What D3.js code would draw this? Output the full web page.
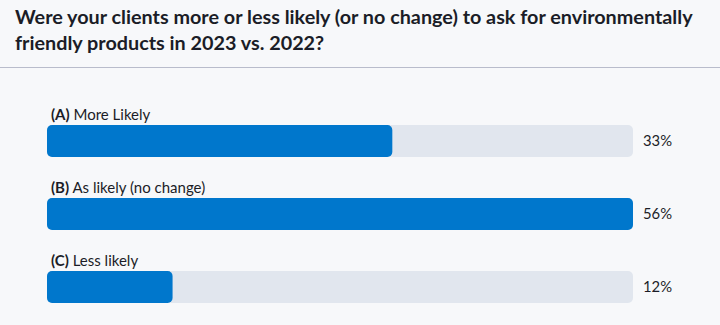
<!DOCTYPE html>
<html>
<head>
<meta charset="utf-8">
<script src="https://cdn.jsdelivr.net/npm/d3@7"></script>
<style>
  html, body { margin: 0; padding: 0; background: #f7f8fa; }
  svg { display: block; }
</style>
</head>
<body>
<div id="chart"></div>
<script>
// data
var letters = ["(A)", "(B)", "(C)"];
var answers = ["More Likely", "As likely (no change)", "Less likely"];
var percents = [33, 56, 12];
var titleLines = [
  "Were your clients more or less likely (or no change) to ask for environmentally",
  "friendly products in 2023 vs. 2022?"
];

var width = 720, height = 325;
var font = "Lato, 'Open Sans', sans-serif";

var svg = d3.select("#chart").append("svg")
  .attr("width", width)
  .attr("height", height)
  .style("font-family", font);

svg.append("rect")
  .attr("width", width).attr("height", height)
  .attr("fill", "#f7f8fa");

// title
svg.append("g").selectAll("text")
  .data(titleLines)
  .enter().append("text")
  .attr("x", 15)
  .attr("y", function (d, i) { return 24 + i * 26; })
  .attr("font-size", "19.8px")
  .attr("font-weight", "bold")
  .attr("fill", "#1b1d27")
  .text(function (d) { return d; });

svg.append("line")
  .attr("x1", 0).attr("x2", width)
  .attr("y1", 67.5).attr("y2", 67.5)
  .attr("stroke", "#b9bccb")
  .attr("stroke-width", 1);

// scales
var x = d3.scaleLinear()
  .domain([0, d3.max(percents)])
  .range([47, 633]);

var y = d3.scaleBand()
  .domain(d3.range(percents.length))
  .range([106, 325])
  .paddingInner(0);

var barH = 32;
var rows = svg.selectAll("g.row")
  .data(percents)
  .enter().append("g")
  .attr("class", "row")
  .attr("transform", function (d, i) { return "translate(0," + (y(i) + 19) + ")"; });

// track
rows.append("rect")
  .attr("x", x(0))
  .attr("width", x(d3.max(percents)) - x(0))
  .attr("height", barH)
  .attr("rx", 5)
  .attr("fill", "#e1e6ee");

// value bar
rows.append("rect")
  .attr("x", x(0))
  .attr("width", function (d) { return x(d) - x(0); })
  .attr("height", barH)
  .attr("rx", 5)
  .attr("fill", "#0077cc");

// labels
var lab = rows.append("text")
  .attr("x", x(0) + 4)
  .attr("y", -5)
  .attr("font-size", "15px")
  .attr("fill", "#1b1d27");
lab.append("tspan")
  .attr("font-weight", "bold")
  .text(function (d, i) { return letters[i]; });
lab.append("tspan")
  .text(function (d, i) { return " " + answers[i]; });

rows.append("text")
  .attr("x", 643)
  .attr("y", barH / 2)
  .attr("dy", "0.35em")
  .attr("font-size", "14.8px")
  .attr("fill", "#1b1d27")
  .text(function (d) { return d + "%"; });
</script>
</body>
</html>
